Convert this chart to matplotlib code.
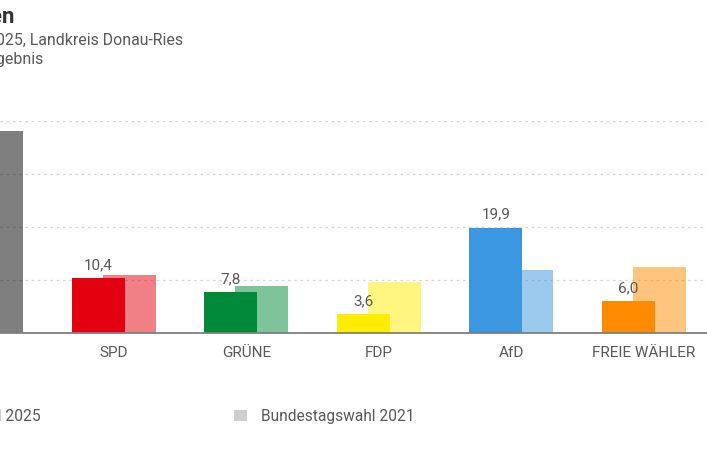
import numpy as np
import matplotlib
matplotlib.use("Agg")
import matplotlib.pyplot as plt
from matplotlib.patches import Rectangle

## Data
parties = ["CSU", "SPD", "GRÜNE", "FDP", "AfD", "FREIE WÄHLER"]
votes_2025 = [np.nan, 10.4, 7.8, 3.6, 19.9, 6.0]  # CSU bar is cut off in the picture
votes_2021 = [38.1, 11.0, 8.8, 9.6, 11.9, 12.4]
colors = ["#000000", "#e3000f", "#008939", "#ffed00", "#3a97e0", "#ff8c00"]
grid_ticks = [10, 20, 30, 40]

TEXT = "#5a5a5a"
W, H = 707, 471

plt.rcParams["font.family"] = ["Roboto", "DejaVu Sans"]

fig = plt.figure(figsize=(W/100, H/100), dpi=100)
ax = fig.add_axes([0, (H-333)/H, 1, (333-121)/H])

xs = np.arange(len(parties))
offset = 0.117
bar_w = 0.4

# 2021 behind, 2025 in front
ax.bar(xs+offset, votes_2021, bar_w, color=colors, alpha=0.5, linewidth=0, zorder=2)
ax.bar(xs-offset, votes_2025, bar_w, color=colors, linewidth=0, zorder=3)

for x, v in zip(xs, votes_2025):
    if not np.isnan(v):
        ax.text(x-offset, v+1.1, f"{v:.1f}".replace(".", ","), ha="center", va="bottom",
                fontsize=11, color=TEXT, zorder=4)

ax.set_xlim(0.1416, 5.477)
ax.set_ylim(0, 40)
ax.set_yticks(grid_ticks)
ax.set_xticks(xs[1:])
ax.set_xticklabels(parties[1:], fontsize=11, color=TEXT)
ax.tick_params(axis="x", length=0, pad=9.5)
ax.tick_params(axis="y", length=0, labelleft=False)
ax.grid(axis="y", color="#d5d5d5", linestyle=(0, (2, 3)), linewidth=0.9, zorder=1)
ax.set_axisbelow(True)
for side in ["top", "left", "right"]:
    ax.spines[side].set_visible(False)
ax.spines["bottom"].set_color("#808080")
ax.spines["bottom"].set_linewidth(1.3)
ax.spines["bottom"].set_zorder(5)

def px_text(x, y, s, **kw):
    fig.text(x/W, 1-y/H, s, va="center", **kw)

px_text(15, 17, "Zweitstimmen", ha="right", fontsize=16, fontweight="bold", color="#333333")
px_text(183, 40, "Bundestagswahl 2025, Landkreis Donau-Ries", ha="right", fontsize=11.4, color=TEXT)
px_text(43, 59, "Vorläufiges Ergebnis", ha="right", fontsize=11.4, color=TEXT)

px_text(41, 416, "Bundestagswahl 2025", ha="right", fontsize=11.2, color=TEXT)
px_text(261, 416, "Bundestagswahl 2021", ha="left", fontsize=11.2, color=TEXT)
fig.add_artist(Rectangle((234/W, 1-421/H), 13/W, 11/H, transform=fig.transFigure,
                         facecolor="#cfcfcf", linewidth=0))

fig.savefig("out.png", dpi=100)
